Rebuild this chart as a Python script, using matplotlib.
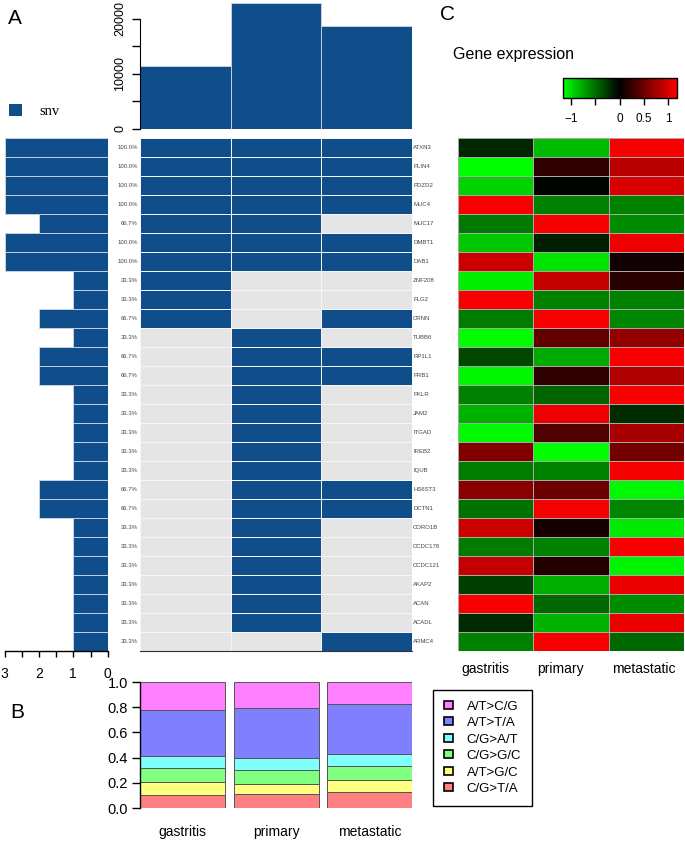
import numpy as np
import matplotlib.pyplot as plt
from matplotlib.colors import ListedColormap, LinearSegmentedColormap, Normalize
from matplotlib.patches import Patch
from matplotlib.transforms import blended_transform_factory

plt.rcParams['font.family'] = ['Liberation Sans', 'DejaVu Sans']

# data
groups = ['gastritis', 'primary', 'metastatic']
genes = ['ATXN3', 'PLIN4', 'PDZD2', 'MUC4', 'MUC17', 'DMBT1', 'DAB1', 'ZNF208',
         'FLG2', 'CRNN', 'TUBB6', 'RP1L1', 'PRB1', 'PKLR', 'JAM2', 'ITGAD',
         'IREB2', 'IQUB', 'HS6ST3', 'DCTN1', 'CORO1B', 'CCDC178', 'CCDC121',
         'AKAP2', 'ACAN', 'ACADL', 'ARMC4']
# 1 = snv present in gastritis / primary / metastatic
snv = np.array([
    [1, 1, 1], [1, 1, 1], [1, 1, 1], [1, 1, 1], [1, 1, 0], [1, 1, 1], [1, 1, 1],
    [1, 0, 0], [1, 0, 0], [1, 0, 1], [0, 1, 0], [0, 1, 1], [0, 1, 1], [0, 1, 0],
    [0, 1, 0], [0, 1, 0], [0, 1, 0], [0, 1, 0], [0, 1, 1], [0, 1, 1], [0, 1, 0],
    [0, 1, 0], [0, 1, 0], [0, 1, 0], [0, 1, 0], [0, 1, 0], [0, 0, 1]])
mut_count = [11400, 22900, 18700]

spectrum_types = ['C/G>T/A', 'A/T>G/C', 'C/G>G/C', 'C/G>A/T', 'A/T>T/A', 'A/T>C/G']
spectrum_colors = ['#FF8080', '#FFFF80', '#80FF80', '#80FFFF', '#8080FF', '#FF80FF']
gastritis_frac = [0.105, 0.105, 0.107, 0.092, 0.369, 0.222]
primary_frac = [0.111, 0.077, 0.114, 0.095, 0.399, 0.204]
metastatic_frac = [0.127, 0.095, 0.109, 0.098, 0.394, 0.177]

expression = np.array([
    [-0.18, -0.85, 1.15], [-1.15, 0.22, 0.85], [-0.95, -0.02, 1.00],
    [1.15, -0.59, -0.59], [-0.55, 1.15, -0.63], [-0.90, -0.14, 1.10],
    [0.95, -1.04, 0.09], [-1.08, 0.90, 0.18], [1.15, -0.59, -0.59],
    [-0.56, 1.15, -0.61], [-1.15, 0.45, 0.68], [-0.32, -0.77, 1.15],
    [-1.12, 0.22, 0.81], [-0.59, -0.45, 1.15], [-0.81, 1.10, -0.20],
    [-1.13, 0.36, 0.77], [0.59, -1.15, 0.54], [-0.56, -0.59, 1.13],
    [0.63, 0.50, -1.13], [-0.52, 1.13, -0.61], [0.95, 0.11, -1.06],
    [-0.56, -0.59, 1.15], [0.90, 0.16, -1.10], [-0.29, -0.79, 1.08],
    [1.15, -0.47, -0.63], [-0.20, -0.81, 1.08], [-0.59, 1.15, -0.47]])

W, H = 685, 842
BLUE = '#104E8B'


def box(x0, y0, x1, y1):
    # pixel box -> figure fraction
    return [x0 / W, 1 - y1 / H, (x1 - x0) / W, (y1 - y0) / H]


fig = plt.figure(figsize=(W / 100, H / 100), dpi=100)
n = len(genes)

# top bar: mutation counts
ax_top = fig.add_axes(box(140, 0, 412, 129))
ax_top.bar(np.arange(3), mut_count, width=1, align='edge', color=BLUE,
           edgecolor='#d0d8e4', linewidth=0.6)
ax_top.set_xlim(0, 3)
ax_top.set_ylim(0, 23390)
for s in ['top', 'right', 'bottom']:
    ax_top.spines[s].set_visible(False)
ax_top.spines['left'].set_bounds(0, 20000)
ax_top.set_xticks([])
ax_top.set_yticks([0, 5000, 10000, 15000, 20000])
ax_top.set_yticklabels(['0', '', '10000', '', '20000'], rotation=90, va='center')
ax_top.tick_params(axis='y', length=5.8, width=1, labelsize=9, pad=4)

# oncoprint
ax_onc = fig.add_axes(box(140, 138, 412, 651))
ax_onc.pcolormesh(snv, cmap=ListedColormap(['#E5E5E5', BLUE]), vmin=0, vmax=1,
                  edgecolors='#f4f6fa', linewidth=0.6)
ax_onc.set_xlim(0, 3)
ax_onc.set_ylim(n, 0)
ax_onc.axis('off')
ax_onc.plot([0, 3], [n, n], color='#333333', lw=0.8, clip_on=False)
tr = blended_transform_factory(ax_onc.transAxes, ax_onc.transData)
pct = snv.sum(axis=1) / 3 * 100
for i, g in enumerate(genes):
    ax_onc.text(-0.008, i + 0.5, f'{pct[i]:.1f}%', transform=tr, ha='right',
                va='center', fontsize=4.3, color='#444444')
    ax_onc.text(1.004, i + 0.5, g, transform=tr, ha='left', va='center',
                fontsize=4.3, color='#444444')

# left bar: number of samples
ax_left = fig.add_axes(box(4.5, 138, 107.7, 651))
ax_left.barh(np.arange(n) + 0.5, snv.sum(axis=1), height=1, color=BLUE,
             edgecolor='#d0d8e4', linewidth=0.6)
ax_left.set_xlim(3, 0)
ax_left.set_ylim(n, 0)
for s in ['top', 'right', 'left']:
    ax_left.spines[s].set_visible(False)
ax_left.spines['bottom'].set_linewidth(1)
ax_left.set_yticks([])
ax_left.set_xticks(np.arange(0, 3.01, 0.5))
ax_left.set_xticklabels(['0', '', '1', '', '2', '', '3'])
ax_left.tick_params(axis='x', length=4.5, width=1, labelsize=10, pad=7)

fig.legend([Patch(facecolor=BLUE)], ['snv'], loc='center left',
           bbox_to_anchor=(9 / W, 1 - 111 / H), frameon=False, borderpad=0,
           borderaxespad=0, handlelength=0.9, handleheight=0.9,
           handletextpad=1.2, prop={'family': 'Liberation Serif', 'size': 10.5})

# panel B: mutation spectrum
ax_b = fig.add_axes(box(140, 682, 412, 808))
xpos = np.array([0.5, 1.6, 2.7])
bottom = np.zeros(3)
for k, t in enumerate(spectrum_types):
    vals = np.array([gastritis_frac[k], primary_frac[k], metastatic_frac[k]])
    ax_b.bar(xpos, vals, width=1, bottom=bottom, color=spectrum_colors[k],
             edgecolor='#555555', linewidth=0.7, label=t)
    bottom += vals
ax_b.set_xlim(0, 3.2)
ax_b.set_ylim(0, 1)
for s in ['top', 'right', 'bottom']:
    ax_b.spines[s].set_visible(False)
ax_b.spines['left'].set_linewidth(1)
ax_b.set_yticks(np.arange(0, 1.01, 0.2))
ax_b.set_yticklabels([f'{v:.1f}' for v in np.arange(0, 1.01, 0.2)])
ax_b.tick_params(axis='y', length=5.8, width=1, labelsize=10.5, pad=3)
ax_b.set_xticks(xpos)
ax_b.set_xticklabels(groups)
ax_b.tick_params(axis='x', length=0, labelsize=10, pad=12)

handles = [Patch(facecolor=c, edgecolor='black', linewidth=1.2) for c in spectrum_colors]
fig.legend(handles[::-1], spectrum_types[::-1], loc='upper left',
           bbox_to_anchor=(433 / W, 1 - 690 / H), borderaxespad=0,
           fancybox=False, edgecolor='black', framealpha=1, fontsize=9.5,
           handlelength=0.75, handleheight=0.55, handletextpad=1.0,
           labelspacing=0.34, borderpad=0.8).get_frame().set_linewidth(1)

# panel C: expression heatmap
span = 1.16 + 1.18
cmap = LinearSegmentedColormap.from_list(
    'gbr', [(0, '#00FF00'), (1.16 / span, '#000000'), (1, '#FF0000')])
norm = Normalize(vmin=-1.16, vmax=1.18)
ax_c = fig.add_axes(box(458, 138, 684, 651))
mesh = ax_c.pcolormesh(expression, cmap=cmap, norm=norm,
                       edgecolors='#a8a8a8', linewidth=0.6)
ax_c.set_xlim(0, 3)
ax_c.set_ylim(n, 0)
ax_c.axis('off')
for j, g in enumerate(groups):
    ax_c.text(j + 0.05, -0.035, g, transform=blended_transform_factory(ax_c.transData, ax_c.transAxes),
              ha='left', va='center', fontsize=10)

cax = fig.add_axes(box(563, 78, 677, 98))
cb = fig.colorbar(mesh, cax=cax, orientation='horizontal', ticks=[-1, -0.5, 0, 0.5, 1])
cb.set_ticklabels(['\u22121', '', '0', '0.5', '1'])
cb.outline.set_linewidth(1)
cax.tick_params(length=5, width=1, labelsize=8.5, pad=6)
fig.text(453 / W, 1 - 55 / H, 'Gene expression', fontsize=11.5, va='center')

# panel letters
fig.text(8 / W, 1 - 18 / H, 'A', fontsize=15, va='center')
fig.text(440 / W, 1 - 15 / H, 'C', fontsize=15, va='center')
fig.text(10 / W, 1 - 713 / H, 'B', fontsize=15, va='center')

fig.savefig('out.png', dpi=100)
